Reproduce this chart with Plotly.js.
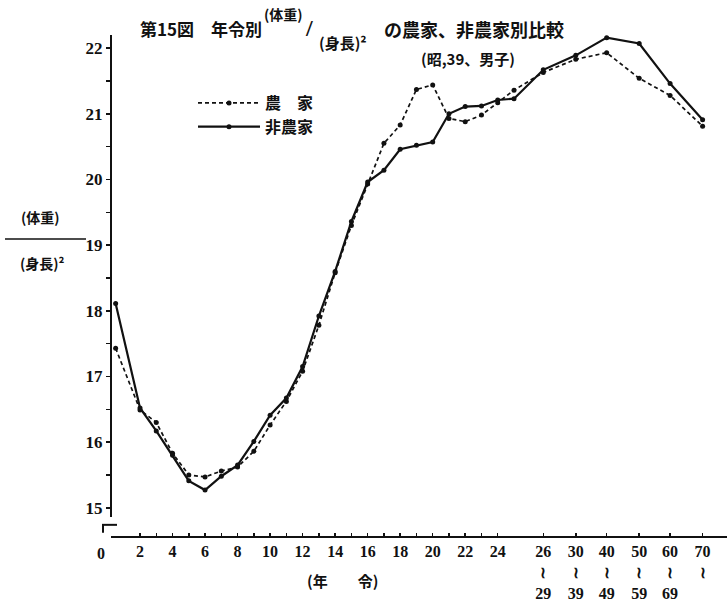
<!DOCTYPE html>
<html><head><meta charset="utf-8">
<script src="https://cdn.plot.ly/plotly-3.0.1.min.js"></script>
<style>html,body{margin:0;padding:0;background:#fff}#chart{width:727px;height:610px}</style>
</head><body><div id="chart"></div>
<script>
// Ages (single years; first point = 0-year-olds, plotted at mean age 0.5)
const ages = [0.5, 2, 3, 4, 5, 6, 7, 8, 9, 10, 11, 12, 13, 14, 15, 16, 17, 18, 19, 20, 21, 22, 23, 24, 25];
// Age groups (axis slots on the compressed part of the age axis)
const groupLabels = ["26<br>≀<br>29", "30<br>≀<br>39", "40<br>≀<br>49", "50<br>≀<br>59", "60<br>≀<br>69", "70<br>≀"];
const groupSlots = [26.8, 28.8, 30.7, 32.7, 34.6, 36.6];
// 農家 (farm households) — (体重)/(身長)^2
const farmAges = [17.43, 16.49, 16.30, 15.83, 15.50, 15.47, 15.56, 15.62, 15.86, 16.26, 16.62, 17.08, 17.78, 18.58, 19.30, 19.93, 20.55, 20.83, 21.37, 21.44, 20.93, 20.88, 20.98, 21.17, 21.36];
const farmGroups = [21.63, 21.83, 21.93, 21.54, 21.28, 20.81];
// 非農家 (non-farm households)
const nonfarmAges = [18.11, 16.52, 16.17, 15.80, 15.41, 15.27, 15.48, 15.65, 16.01, 16.41, 16.67, 17.15, 17.92, 18.60, 19.36, 19.96, 20.14, 20.46, 20.52, 20.57, 21.00, 21.11, 21.12, 21.21, 21.23];
const nonfarmGroups = [21.67, 21.89, 22.16, 22.07, 21.46, 20.91];
// tick labels
const tickAges = [2,3,4,5,6,7,8,9,10,11,12,13,14,15,16,17,18,19,20,21,22,23,24];
const yTickVals = [15,15.5,16,16.5,17,17.5,18,18.5,19,19.5,20,20.5,21,21.5,22];

const W = 727, H = 610, L = 111, R = 0, T = 35, B = 74;
const pw = W - L - R, ph = H - T - B;
const px = v => (v - L) / pw;
const py = v => (H - B - v) / ph;

const cjk = '"Noto Sans CJK JP", "Noto Sans CJK SC", sans-serif';
const num = '"Liberation Serif", "DejaVu Serif", serif';
const ink = '#111';

const xAll = ages.concat(groupSlots);
const farm = farmAges.concat(farmGroups);
const nonfarm = nonfarmAges.concat(nonfarmGroups);

const traces = [
  {x: xAll, y: farm, name: '農　家', type: 'scatter', mode: 'lines+markers',
   line: {color: ink, width: 1.7, dash: '4px,3px'}, marker: {color: ink, size: 5}},
  {x: xAll, y: nonfarm, name: '非農家', type: 'scatter', mode: 'lines+markers',
   line: {color: ink, width: 2.2}, marker: {color: ink, size: 5}}
];

const xTickVals = tickAges.concat(groupSlots);
const xTickText = tickAges.map(a => a % 2 === 0 ? String(a) : '').concat(groupLabels);
const yTickText = yTickVals.map(v => Number.isInteger(v) ? String(v) : '');

const ann = (text, x, y, size, xanchor, extra) => Object.assign({
  text: text, x: px(x), y: py(y), xref: 'paper', yref: 'paper', showarrow: false,
  xanchor: xanchor || 'left', yanchor: 'middle',
  font: {family: cjk, size: size, color: ink, weight: 700}
}, extra || {});

const layout = {
  width: W, height: H,
  margin: {l: L, r: R, t: T, b: B},
  paper_bgcolor: '#fff', plot_bgcolor: '#fff',
  showlegend: true,
  legend: {x: px(193), y: py(86), xanchor: 'left', yanchor: 'top',
           bgcolor: 'rgba(0,0,0,0)', font: {family: cjk, size: 16, color: ink, weight: 700},
           tracegroupgap: 0, itemwidth: 62},
  xaxis: {range: [0.215, 38.1], showgrid: false, zeroline: false,
          showline: true, linecolor: ink, linewidth: 2,
          ticks: 'inside', ticklen: 3, tickcolor: ink, tickwidth: 1.5,
          tickmode: 'array', tickvals: xTickVals, ticktext: xTickText,
          tickfont: {family: num, size: 16, color: ink, weight: 700}},
  yaxis: {range: [14.57, 22.2], showgrid: false, zeroline: false, showline: false,
          ticks: 'outside', ticklen: 4, tickcolor: ink, tickwidth: 1.5,
          tickmode: 'array', tickvals: yTickVals, ticktext: yTickText,
          tickfont: {family: num, size: 17, color: ink, weight: 700}},
  shapes: [
    {type: 'line', xref: 'paper', yref: 'y', x0: 0, x1: 0, y0: 14.86, y1: 22.2, line: {color: ink, width: 2}},
    {type: 'line', xref: 'paper', yref: 'y', x0: px(102), x1: px(117), y0: 14.74, y1: 14.74, line: {color: ink, width: 2}},
    {type: 'line', xref: 'paper', yref: 'y', x0: px(103), x1: px(103), y0: 14.74, y1: 14.62, line: {color: ink, width: 2}},
    {type: 'line', xref: 'paper', yref: 'paper', x0: px(5), x1: px(86), y0: py(239), y1: py(239), line: {color: ink, width: 1.5}}
  ],
  annotations: [
    ann('第15図　年令別', 138, 28, 17),
    ann('(体重)', 262, 14, 14),
    ann('/', 303, 28, 20, 'left', {font: {family: num, size: 24, color: ink, weight: 700}}),
    ann('(身長)²', 317, 42, 15),
    ann('の農家、非農家別比較', 382, 29, 18),
    ann('(昭,39、男子)', 419, 58, 15),
    ann('(体重)', 40, 217, 14, 'center'),
    ann('(身長)²', 42, 263, 14, 'center'),
    ann('(年　　令)', 342, 580, 15, 'center'),
    ann('0', 101, 553, 16, 'center', {font: {family: num, size: 16, color: ink, weight: 700}})
  ]
};

Plotly.newPlot('chart', traces, layout, {displayModeBar: false, staticPlot: true});
</script>
</body></html>
